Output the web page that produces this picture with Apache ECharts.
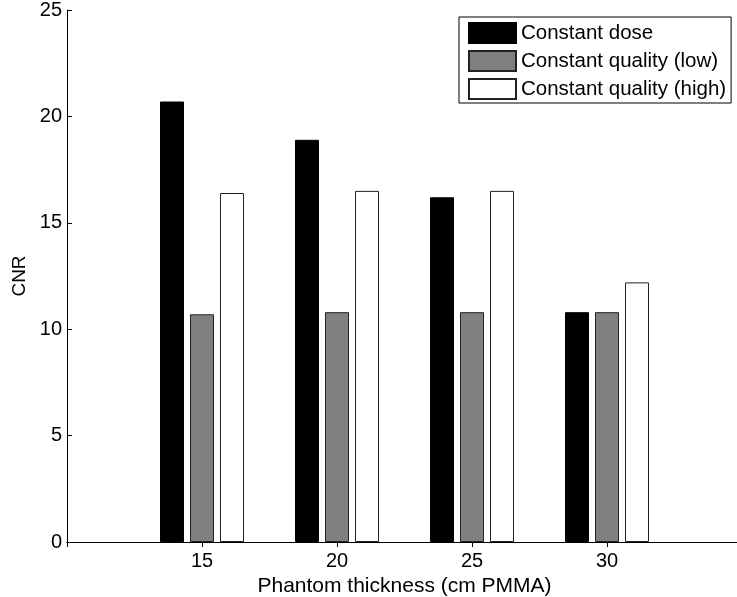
<!DOCTYPE html>
<html>
<head>
<meta charset="utf-8">
<script src="https://cdn.jsdelivr.net/npm/echarts@6/dist/echarts.min.js"></script>
<style>
  html, body { margin: 0; padding: 0; background: #fff; }
  #chart { width: 737px; height: 597px; }
</style>
</head>
<body>
<div id="chart"></div>
<script>
// phantom thickness positions; 10 and 35 are just the axis ends
const thickness = ["10", "15", "20", "25", "30", "35"];
const shownTicks = ["15", "20", "25", "30"];

const constantDose = [null, 20.7, 18.9, 16.2, 10.8, null];
const qualityLow = [null, 10.7, 10.8, 10.8, 10.8, null];
const qualityHigh = [null, 16.4, 16.5, 16.5, 12.2, null];

const yTicks = [0, 5, 10, 15, 20, 25];

const font = "Liberation Sans, Arial, sans-serif";

const chart = echarts.init(document.getElementById("chart"));

const tickStyle = { show: true, inside: true, length: 5, lineStyle: { color: "#000", width: 1 } };

const option = {
    animation: false,
    textStyle: { fontFamily: font },
    grid: { left: 67, right: -5, top: 10, bottom: 55, containLabel: false, outerBoundsMode: "none" },
    legend: {
        orient: "vertical",
        left: 459,
        top: 17,
        padding: [5, 5, 3, 9],
        itemWidth: 47,
        itemHeight: 20,
        itemGap: 6,
        backgroundColor: "#fff",
        borderColor: "#000",
        borderWidth: 1,
        borderRadius: 0,
        icon: "rect",
        textStyle: { fontSize: 20.5, color: "#000", fontFamily: font },
        data: ["Constant dose", "Constant quality (low)", "Constant quality (high)"]
    },
    xAxis: [
        {
            type: "category",
            data: thickness,
            boundaryGap: false,
            name: "Phantom thickness (cm PMMA)",
            nameLocation: "middle",
            nameGap: 28,
            nameTextStyle: { fontSize: 21, color: "#000", fontFamily: font },
            axisLine: { lineStyle: { color: "#000", width: 1 } },
            axisTick: tickStyle,
            axisLabel: {
                fontSize: 20,
                color: "#000",
                margin: 9,
                formatter: v => shownTicks.includes(v) ? v : ""
            },
            splitLine: { show: false }
        },
        {
            type: "category",
            data: thickness,
            boundaryGap: false,
            position: "top",
            axisLine: { lineStyle: { color: "#000", width: 1 } },
            axisTick: tickStyle,
            axisLabel: { show: false },
            splitLine: { show: false }
        }
    ],
    yAxis: [
        {
            type: "value",
            min: 0,
            max: 25,
            interval: 5,
            name: "CNR",
            nameLocation: "middle",
            nameGap: 35,
            nameTextStyle: { fontSize: 19, color: "#000", fontFamily: font },
            axisLine: { show: true, lineStyle: { color: "#000", width: 1 } },
            axisTick: tickStyle,
            axisLabel: {
                fontSize: 20,
                color: "#000",
                margin: 5,
                formatter: v => yTicks.includes(v) ? String(v) : ""
            },
            splitLine: { show: false }
        },
        {
            type: "value",
            min: 0,
            max: 25,
            interval: 5,
            position: "right",
            axisLine: { show: true, lineStyle: { color: "#000", width: 1 } },
            axisTick: tickStyle,
            axisLabel: { show: false },
            splitLine: { show: false }
        }
    ],
    series: [
        {
            name: "Constant dose",
            type: "bar",
            data: constantDose,
            barWidth: 24,
            barGap: "25%",
            itemStyle: { color: "#000", borderColor: "#000", borderWidth: 1 }
        },
        {
            name: "Constant quality (low)",
            type: "bar",
            data: qualityLow,
            barWidth: 24,
            barGap: "25%",
            itemStyle: { color: "#808080", borderColor: "#222", borderWidth: 1 }
        },
        {
            name: "Constant quality (high)",
            type: "bar",
            data: qualityHigh,
            barWidth: 24,
            barGap: "25%",
            itemStyle: { color: "#fff", borderColor: "#222", borderWidth: 1 }
        }
    ]
};

chart.setOption(option);
</script>
</body>
</html>
